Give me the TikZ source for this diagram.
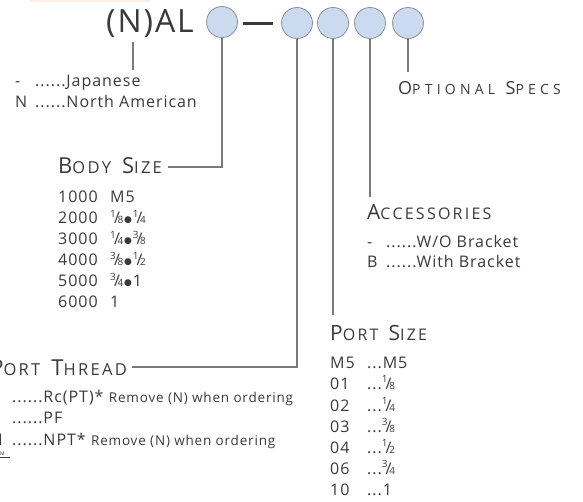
\documentclass[tikz,border=0pt]{standalone}
\usepackage{fontspec}
\setmainfont{Open Sans}
\newfontfamily\lsfont[LetterSpace=6]{Open Sans}
\newfontfamily\capfont[LetterSpace=14]{Open Sans}
\newfontfamily\osfont[LetterSpace=30]{Open Sans}
\newfontfamily\dejavu{DejaVu Sans}
\definecolor{txt}{HTML}{3A3A3A}
\definecolor{ln}{HTML}{7A7A7A}
\definecolor{cfill}{HTML}{CCDAF0}
\definecolor{cdraw}{HTML}{8A8F99}
\definecolor{pinkbar}{HTML}{FBEEE9}
\newcommand\fr[2]{\raisebox{.42em}{\fontsize{10}{10}\selectfont #1}\kern-.12em{\fontsize{16}{16}\selectfont /}\kern-.14em{\fontsize{10}{10}\selectfont #2}}
\newcommand\bul{\kern.05em\raisebox{.12em}{\dejavu\fontsize{9}{9}\selectfont ●}\kern.05em}
\newcommand\smc[4]{{\fontsize{#1}{#1}\selectfont #3}{\fontsize{#2}{#2}\selectfont #4}}
\tikzset{
  lbl/.style={anchor=base west, inner sep=0, text=txt, font=\capfont},
  item/.style={anchor=base west, inner sep=0, text=txt, font=\lsfont\fontsize{16}{16}\selectfont},
  note/.style={anchor=base west, inner sep=0, text=txt, font=\lsfont\fontsize{13.5}{13.5}\selectfont},
  conn/.style={draw=ln, line width=1.4pt},
  sel/.style={circle, draw=cdraw, fill=cfill, minimum size=31pt, inner sep=0, line width=0.8pt}
}
\begin{document}
\begin{tikzpicture}[x=1pt,y=-1pt]
\useasboundingbox (0,0) rectangle (583,502);
\clip (0,0) rectangle (583,502);
\fill[pinkbar] (29,0) rectangle (150,2);
% title
\node[anchor=base west, inner sep=0, text=txt, font=\lsfont\fontsize{32}{32}\selectfont] (title) at (106,33) {(N)AL};
\node[sel] (c1) at (222,22) {};
\node[sel] (c2) at (297,23) {};
\node[sel] (c3) at (333,23) {};
\node[sel] (c4) at (370,23) {};
\node[sel] (c5) at (408,23) {};
\coordinate (d1) at (243,24);
\coordinate (d2) at (273,24);
\draw[txt, line width=3pt] (d1) -- (d2);
% N selector
\coordinate (nt) at (133,42);
\coordinate (nb) at (133,70);
\draw[conn] (nt) -- (nb);
\node[item] (j1) at (15,87) {-};
\node[item] (j2) at (35,87) {......Japanese};
\node[item] (n1) at (15,108) {N};
\node[item] (n2) at (35,108) {......North American};
% body size
\coordinate (bs) at (168,167);
\draw[conn] (c1.south) |- (bs);
\node[lbl] (bsl) at (58,174) {\smc{22}{16.5}{B}{ODY}\hspace{7pt} \smc{22}{16.5}{S}{IZE}};
\node[item] (b1a) at (58,203) {1000};  \node[item] (b1b) at (110,203) {M5};
\node[item] (b2a) at (58,224) {2000};  \node[item] (b2b) at (110,224) {\fr18\bul\fr14};
\node[item] (b3a) at (58,245) {3000};  \node[item] (b3b) at (110,245) {\fr14\bul\fr38};
\node[item] (b4a) at (58,266) {4000};  \node[item] (b4b) at (110,266) {\fr38\bul\fr12};
\node[item] (b5a) at (58,287) {5000};  \node[item] (b5b) at (110,287) {\fr34\bul 1};
\node[item] (b6a) at (58,308) {6000};  \node[item] (b6b) at (110,308) {1};
% port thread
\coordinate (pt) at (132,367);
\draw[conn] (c2.south) |- (pt);
\node[lbl, anchor=base east] (ptl) at (127,375) {\smc{22}{16.5}{P}{ORT}\hspace{7pt} \smc{22}{16.5}{T}{HREAD}};
\node[item] (t1) at (12,402) {......Rc(PT)*};
\node[note, anchor=base west] (t1n) at ([xshift=5pt]t1.base east) {Remove (N) when ordering};
\node[item] (t2) at (12,423) {......PF};
\node[item, anchor=base east] (t3c) at (3,445) {N};
\node[item] (t3) at (12,445) {......NPT*};
\node[note, anchor=base west] (t3n) at ([xshift=5pt]t3.base east) {Remove (N) when ordering};
\node[anchor=base west, inner sep=0, text=txt, font=\fontsize{5}{5}\selectfont] (mm) at (0,455) {M};
\coordinate (ma) at (0,457);
\coordinate (mb) at (10,457);
\draw[txt, line width=0.6pt] (ma) -- (mb);
% port size
\coordinate (ps) at (333,315);
\draw[conn] (c3.south) -- (ps);
\node[lbl] (psl) at (330,340) {\smc{21}{16}{P}{ORT}\hspace{6pt} \smc{21}{16}{S}{IZE}};
\node[item] (p1a) at (330,368) {M5}; \node[item] (p1b) at (367,368) {...M5};
\node[item] (p2a) at (330,389) {01}; \node[item] (p2b) at (367,389) {...\fr18};
\node[item] (p3a) at (330,411) {02}; \node[item] (p3b) at (367,411) {...\fr14};
\node[item] (p4a) at (330,432) {03}; \node[item] (p4b) at (367,432) {...\fr38};
\node[item] (p5a) at (330,453) {04}; \node[item] (p5b) at (367,453) {...\fr12};
\node[item] (p6a) at (330,474) {06}; \node[item] (p6b) at (367,474) {...\fr34};
\node[item] (p7a) at (330,495) {10}; \node[item] (p7b) at (367,495) {...1};
% accessories
\coordinate (ac) at (370,197);
\draw[conn] (c4.south) -- (ac);
\node[lbl] (acl) at (367,220) {\smc{21}{16}{A}{CCESSORIES}};
\node[item] (a1a) at (367,248) {-}; \node[item] (a1b) at (386,248) {......W/O Bracket};
\node[item] (a2a) at (367,268) {B}; \node[item] (a2b) at (386,268) {......With Bracket};
% optional specs
\coordinate (os) at (408,72);
\draw[conn] (c5.south) -- (os);
\node[lbl, font=\osfont] (osl) at (398,95) {\smc{18}{14}{O}{PTIONAL}\hspace{5pt} \smc{18}{14}{S}{PECS}};
\end{tikzpicture}
\end{document}
